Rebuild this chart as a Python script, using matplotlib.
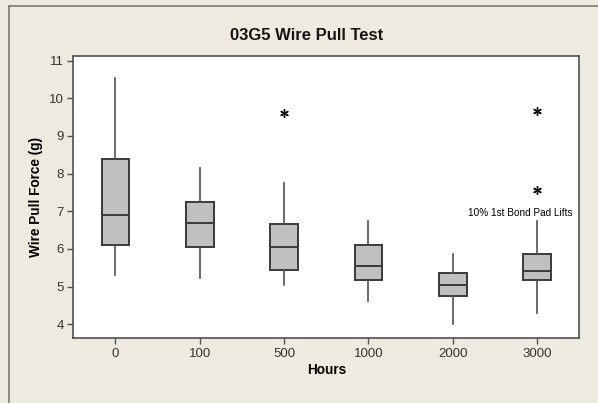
import matplotlib
matplotlib.use("Agg")
import matplotlib.pyplot as plt
from matplotlib.lines import Line2D

plt.rcParams["font.family"] = ["Liberation Sans", "DejaVu Sans"]

categories = ["0", "100", "500", "1000", "2000", "3000"]
whis_low = [5.30, 5.22, 5.04, 4.63, 4.02, 4.31]
q1 = [6.11, 6.05, 5.45, 5.18, 4.75, 5.18]
median = [6.89, 6.69, 6.04, 5.56, 5.03, 5.41]
q3 = [8.39, 7.24, 6.66, 6.11, 5.35, 5.86]
whis_high = [10.55, 8.14, 7.74, 6.74, 5.86, 6.74]
outliers = [[], [], [9.62], [], [], [9.66, 7.57]]

title = "03G5 Wire Pull Test"
xlabel = "Hours"
ylabel = "Wire Pull Force (g)"
note = "10% 1st Bond Pad Lifts"

bg = "#EEEAE0"
W, H = 598, 403
fig = plt.figure(figsize=(W / 100, H / 100), dpi=100, facecolor=bg)
ax = fig.add_axes([73.3 / W, (H - 338) / H, 506 / W, (338 - 55.7) / H])
ax.set_facecolor("white")

stats = []
for i in range(len(categories)):
    stats.append(dict(whislo=whis_low[i], q1=q1[i], med=median[i], q3=q3[i],
                      whishi=whis_high[i], fliers=outliers[i], label=categories[i]))

ax.bxp(stats, positions=range(len(categories)), widths=0.33, patch_artist=True,
       showcaps=False,
       boxprops=dict(facecolor="#C0C0C0", edgecolor="#3A3A3A", linewidth=1.4),
       medianprops=dict(color="#3A3A3A", linewidth=1.4),
       whiskerprops=dict(color="#505050", linewidth=1.2),
       flierprops=dict(marker=(6, 2, 0), markersize=6.2, markeredgecolor="#111111",
                       markerfacecolor="#111111", markeredgewidth=1.0, linestyle="none"))

ax.set_xlim(-0.5, 5.5)
ax.set_ylim(3.636, 11.13)
ax.set_yticks(range(4, 12))
ax.set_xticks(range(len(categories)))
ax.set_xticklabels(categories)

for s in ax.spines.values():
    s.set_color("#505050")
    s.set_linewidth(1.2)
ax.tick_params(axis="both", direction="out", length=4, width=1, color="#505050",
               labelsize=9.5, labelcolor="#333333", top=False, right=False, pad=3)

ax.set_xlabel(xlabel, fontsize=9.8, fontweight="bold", labelpad=2)
ax.set_ylabel(ylabel, fontsize=9.8, fontweight="bold", labelpad=4)

ax.text(4.8, 6.96, note, fontsize=7.2, ha="center", va="center", color="black")

fig.text(306.7 / W, 1 - 36 / H, title, fontsize=12, fontweight="bold",
         ha="center", va="center", color="#151515")

fig.add_artist(Line2D([9 / W, 9 / W], [0, 1 - 6 / H], color="#7A7A7A", linewidth=1.2,
                      transform=fig.transFigure))
fig.add_artist(Line2D([9 / W, 1], [1 - 6 / H, 1 - 6 / H], color="#7A7A7A", linewidth=1.2,
                      transform=fig.transFigure))

fig.savefig("out.png", dpi=100, facecolor=bg)
